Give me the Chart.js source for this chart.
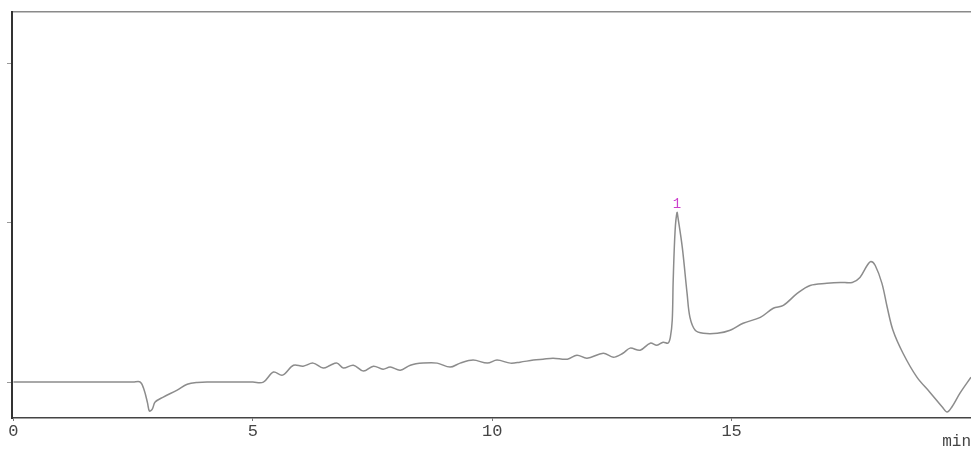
<!DOCTYPE html>
<html>
<head>
<meta charset="utf-8">
<script src="https://cdn.jsdelivr.net/npm/chart.js@4/dist/chart.umd.min.js"></script>
<style>
    html, body { margin: 0; padding: 0; background: #ffffff; }
    #box { width: 971px; height: 450px; }
</style>
</head>
<body>
<div id="box"><canvas id="myChart"></canvas></div>
<script>
// retention time (min) and detector signal
let times = [0, 1.3, 2.5, 2.65, 2.73, 2.80, 2.84, 2.90, 2.96, 3.13, 3.42, 3.63, 3.84, 4.11,
    4.6, 5.0, 5.22,
    5.43, 5.62, 5.85, 6.05, 6.26, 6.47, 6.62, 6.76, 6.89, 7.10, 7.31, 7.52, 7.72, 7.87,
    8.08, 8.29, 8.56, 8.85, 9.12, 9.33, 9.60, 9.90, 10.10, 10.38, 10.58, 10.86, 11.06,
    11.27, 11.57, 11.77, 11.98, 12.32, 12.53, 12.73, 12.88, 13.09, 13.30, 13.44, 13.57,
    13.67, 13.72, 13.76, 13.78, 13.82, 13.86, 13.88, 13.97, 14.07, 14.13, 14.24, 14.41,
    14.70, 14.97, 15.24, 15.60, 15.87, 16.08, 16.37, 16.64, 16.99, 17.27, 17.52, 17.68,
    17.83, 17.91, 18.00, 18.14, 18.25, 18.37, 18.58, 18.87, 19.14, 19.40, 19.50, 19.60,
    19.77, 20.00]
let signal = [0, 0, 0, 0, -5, -13, -18.1, -16.9, -12.5, -9.4, -5, -1.3, -0.2, 0,
    0, 0, 0,
    6.3, 4.4, 10.6, 10, 11.9, 8.8, 10.6, 11.9, 8.8, 10.6, 6.9, 10, 8.1, 9.4,
    7.5, 10.6, 11.9, 11.9, 9.4, 11.9, 13.8, 11.9, 13.8, 11.9, 12.5, 13.8, 14.4,
    15, 14.4, 16.9, 15, 18.1, 15.6, 18.1, 21.3, 20, 24.4, 23.1, 25,
    24.4, 28.1, 38.8, 63.8, 95, 106.3, 103.1, 84.4, 55.6, 40.6, 32.5, 30.6,
    30.6, 32.5, 36.9, 40.6, 46.3, 48.1, 55.6, 60.6, 61.9, 62.5, 62.5, 65.6,
    73.1, 75.6, 73.1, 61.9, 46.9, 32.5, 18.1, 3.1, -6.3, -15.6, -18.8, -15.6,
    -6.9, 3.1]

let xTickValues = [0, 5, 10, 15]
let yTickValues = [0, 100, 200]
let peakLabels = ['1']
let peakTimes = [13.86]

let points = []
for (let i = 0; i < times.length; i++){
    points.push({x: times[i], y: signal[i]})
}

// writes the peak number above each labelled peak
let peakLabelPlugin = {
    id: 'peakLabels',
    afterDatasetsDraw(chart){
        let ctx = chart.ctx
        let xScale = chart.scales.x
        let yScale = chart.scales.y
        ctx.save()
        ctx.fillStyle = '#cc3fcc'
        ctx.font = '14px "Liberation Mono", monospace'
        ctx.textAlign = 'center'
        ctx.textBaseline = 'bottom'
        for (let i = 0; i < peakTimes.length; i++){
            let idx = times.indexOf(peakTimes[i])
            let px = xScale.getPixelForValue(peakTimes[i])
            let py = yScale.getPixelForValue(signal[idx])
            ctx.fillText(peakLabels[i], px, py - 1)
        }
        ctx.restore()
    }
}

let ctx = document.getElementById('myChart').getContext('2d')
let chart = new Chart(ctx, {
    type: 'line',
    data: {
        datasets: [{
            data: points,
            borderColor: '#8c8c8c',
            borderWidth: 1.5,
            pointRadius: 0,
            tension: 0.35,
            fill: false
        }]
    },
    options: {
        responsive: true,
        maintainAspectRatio: false,
        animation: false,
        events: [],
        layout: {padding: {left: 7, top: 4, right: 0, bottom: 0}},
        plugins: {legend: {display: false}, tooltip: {enabled: false}},
        scales: {
            x: {
                type: 'linear',
                position: 'bottom',
                min: -0.03,
                max: 20,
                afterBuildTicks: function(scale){
                    scale.ticks = xTickValues.map(v => ({value: v}))
                },
                grid: {drawOnChartArea: false, drawTicks: true, tickLength: 3, color: '#777'},
                border: {display: true, color: '#444', width: 1.5},
                ticks: {
                    color: '#444',
                    padding: 2,
                    maxRotation: 0,
                    font: {family: '"Liberation Mono", monospace', size: 17, lineHeight: 1}
                },
                title: {
                    display: true,
                    text: 'min',
                    align: 'end',
                    color: '#444',
                    padding: {top: -8, bottom: 0},
                    font: {family: '"Liberation Mono", monospace', size: 16, lineHeight: 1}
                }
            },
            x2: {
                type: 'linear',
                position: 'top',
                min: -0.03,
                max: 20,
                grid: {display: false},
                border: {display: true, color: '#8a8a8a', width: 1.5},
                ticks: {display: false}
            },
            y: {
                type: 'linear',
                min: -22.5,
                max: 232,
                afterBuildTicks: function(scale){
                    scale.ticks = yTickValues.map(v => ({value: v}))
                },
                grid: {drawOnChartArea: false, drawTicks: true, tickLength: 5, color: '#999'},
                border: {display: true, color: '#333', width: 2},
                ticks: {display: false}
            }
        }
    },
    plugins: [peakLabelPlugin]
})
</script>
</body>
</html>
